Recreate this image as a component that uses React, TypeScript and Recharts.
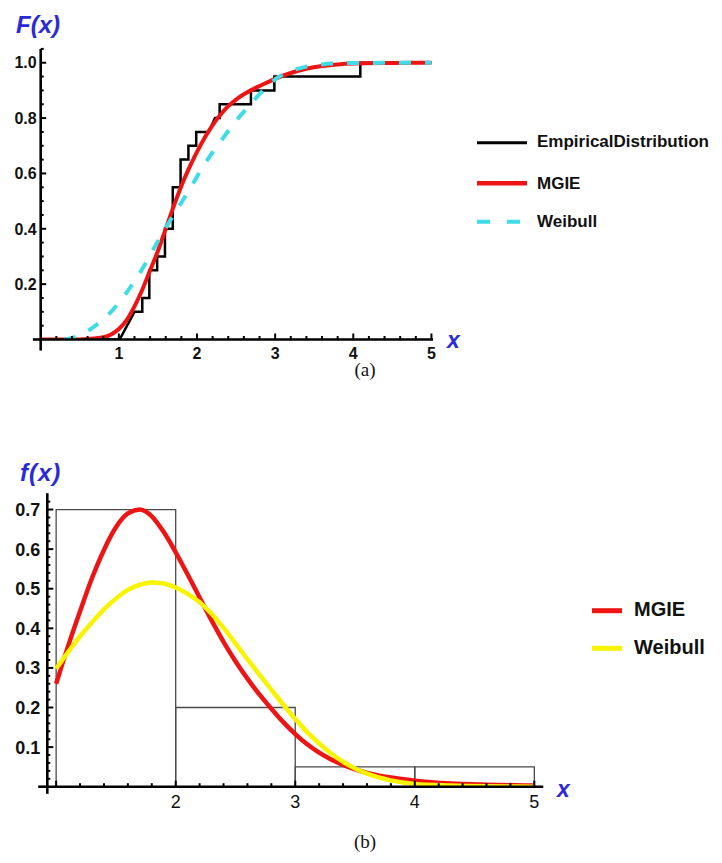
import React from "react";
import {
  ComposedChart,
  Line,
  XAxis,
  YAxis,
  ReferenceLine,
  ReferenceArea,
} from "recharts";

const SANS = '"Liberation Sans", Arial, Helvetica, sans-serif';
const SERIF = '"Liberation Serif", "Times New Roman", serif';
const BLUE = "#2a2ad8";
const RED = "#ee1414";
const CYAN = "#3edde6";
const YELLOW = "#f8f400";

// (a) empirical CDF, drawn as a step path
const empX = [0, 1.01, 1.2, 1.3, 1.3, 1.39, 1.39, 1.49, 1.49, 1.59, 1.59, 1.69, 1.69, 1.79, 1.79, 1.89, 1.89, 1.99, 1.99, 2.15, 2.23, 2.29, 2.29, 2.69, 2.69, 2.99, 2.99, 4.09, 4.09, 5];
const empY = [0, 0, 0.1, 0.1, 0.15, 0.15, 0.25, 0.25, 0.3, 0.3, 0.4, 0.4, 0.55, 0.55, 0.65, 0.65, 0.7, 0.7, 0.75, 0.75, 0.8, 0.8, 0.85, 0.85, 0.9, 0.9, 0.95, 0.95, 1.0, 1.0];

// (a) fitted CDFs
const mgieCdfX = [0, 0.4, 0.6, 0.8, 0.9, 1.0, 1.1, 1.2, 1.3, 1.4, 1.5, 1.6, 1.7, 1.8, 1.9, 2.0, 2.1, 2.2, 2.3, 2.4, 2.5, 2.6, 2.7, 2.8, 3.0, 3.2, 3.4, 3.6, 3.8, 4.0, 4.5, 5.0];
const mgieCdfY = [0, 0, 0.002, 0.008, 0.018, 0.038, 0.07, 0.12, 0.18, 0.25, 0.32, 0.4, 0.48, 0.555, 0.62, 0.678, 0.73, 0.775, 0.812, 0.843, 0.867, 0.886, 0.902, 0.916, 0.942, 0.963, 0.978, 0.988, 0.994, 0.997, 0.999, 1.0];

const weibullCdfX = [0.3, 0.5, 0.7, 0.9, 1.1, 1.3, 1.5, 1.7, 1.9, 2.1, 2.3, 2.5, 2.7, 2.9, 3.0, 3.2, 3.4, 3.6, 4.0, 5.0];
const weibullCdfY = [0, 0.015, 0.05, 0.1, 0.17, 0.255, 0.355, 0.45, 0.54, 0.635, 0.715, 0.79, 0.855, 0.915, 0.94, 0.97, 0.986, 0.994, 0.999, 1.0];

// (b) histogram bins
const binEdges = [1, 2, 3, 4, 5];
const binHeights = [0.7, 0.2, 0.05, 0.05];

// (b) fitted densities
const mgiePdfX = [1.0, 1.1, 1.2, 1.3, 1.4, 1.5, 1.6, 1.7, 1.8, 1.9, 2.0, 2.1, 2.2, 2.3, 2.4, 2.5, 2.6, 2.7, 2.8, 2.9, 3.0, 3.1, 3.2, 3.3, 3.4, 3.6, 3.8, 4.0, 4.3, 4.6, 5.0];
const mgiePdfY = [0.26, 0.355, 0.443, 0.527, 0.598, 0.655, 0.69, 0.7, 0.683, 0.643, 0.592, 0.536, 0.478, 0.42, 0.366, 0.317, 0.273, 0.233, 0.197, 0.163, 0.133, 0.107, 0.086, 0.069, 0.055, 0.035, 0.023, 0.015, 0.008, 0.005, 0.003];

const weibullPdfX = [1.0, 1.1, 1.2, 1.3, 1.4, 1.5, 1.6, 1.7, 1.8, 1.9, 2.0, 2.1, 2.2, 2.3, 2.4, 2.5, 2.6, 2.7, 2.8, 2.9, 3.0, 3.1, 3.2, 3.3, 3.4, 3.5, 3.6, 3.8, 4.0, 4.3, 4.6, 5.0];
const weibullPdfY = [0.298, 0.34, 0.38, 0.415, 0.448, 0.475, 0.497, 0.51, 0.516, 0.513, 0.503, 0.487, 0.466, 0.437, 0.401, 0.362, 0.322, 0.283, 0.245, 0.207, 0.171, 0.138, 0.109, 0.084, 0.063, 0.046, 0.033, 0.016, 0.007, 0.003, 0.001, 0];

// tick labels
const topXLabels = [1, 2, 3, 4, 5];
const topYLabels = [0.2, 0.4, 0.6, 0.8, 1.0];
const bottomXMajors = [1, 2, 3, 4, 5];
const bottomXLabels = [2, 3, 4, 5];
const bottomYLabels = [0.1, 0.2, 0.3, 0.4, 0.5, 0.6, 0.7];

const zip = (xs: number[], ys: number[]) => xs.map((x, i) => ({ x, y: ys[i] }));

// evenly spaced tick positions (majors + minors)
const range = (from: number, to: number, step: number) => {
  const out: number[] = [];
  for (let i = 0; from + i * step <= to + 1e-9; i++) out.push(+(from + i * step).toFixed(4));
  return out;
};

const has = (list: number[], v: number) => list.some((m) => Math.abs(m - v) < 1e-6);

type TickStyle = {
  majors: number[];
  labels: number[];
  majorLen: number;
  minorLen: number;
  fontSize: number;
  fontWeight: number | string;
  gap: number;
  digits: number;
};

// ticks point into the plot, like the axes of a Mathematica plot
const xTick = (s: TickStyle) => (props: any) => {
  const { x, y, payload } = props;
  const v = payload.value as number;
  const len = has(s.majors, v) ? s.majorLen : s.minorLen;
  return (
    <g>
      <line x1={x} x2={x} y1={y} y2={y - len} stroke="#000" strokeWidth={2} />
      {has(s.labels, v) && (
        <text x={x} y={y + s.gap} textAnchor="middle" fontFamily={SANS} fontSize={s.fontSize} fontWeight={s.fontWeight} fill="#111">
          {v.toFixed(s.digits)}
        </text>
      )}
    </g>
  );
};

const yTick = (s: TickStyle) => (props: any) => {
  const { x, y, payload } = props;
  const v = payload.value as number;
  const len = has(s.majors, v) ? s.majorLen : s.minorLen;
  return (
    <g>
      <line x1={x} x2={x + len} y1={y} y2={y} stroke="#000" strokeWidth={2} />
      {has(s.labels, v) && (
        <text x={x - s.gap} y={y} dy="0.36em" textAnchor="end" fontFamily={SANS} fontSize={s.fontSize} fontWeight={s.fontWeight} fill="#111">
          {v.toFixed(s.digits)}
        </text>
      )}
    </g>
  );
};

const axisLine = { stroke: "#000", strokeWidth: 2.6 };

function CdfChart() {
  return (
    <ComposedChart width={722} height={380} margin={{ top: 48.9, right: 289, bottom: 10.5, left: 0.7 }}>
      <XAxis
        type="number"
        dataKey="x"
        domain={[0, 5.02]}
        allowDataOverflow
        ticks={range(0.2, 5, 0.2)}
        interval={0}
        height={30}
        tickSize={0}
        tickMargin={0}
        tickLine={false}
        axisLine={axisLine}
        tick={xTick({ majors: topXLabels, labels: topXLabels, majorLen: 6, minorLen: 3.5, fontSize: 16, fontWeight: 700, gap: 19, digits: 0 })}
      />
      <YAxis
        type="number"
        domain={[0, 1.05]}
        allowDataOverflow
        ticks={range(0.05, 1.05, 0.05)}
        interval={0}
        width={40}
        tickSize={0}
        tickMargin={0}
        tickLine={false}
        axisLine={axisLine}
        tick={yTick({ majors: topYLabels, labels: topYLabels, majorLen: 5.5, minorLen: 3, fontSize: 16, fontWeight: 700, gap: 4, digits: 1 })}
      />
      {/* axis overhang past the origin */}
      <ReferenceLine segment={[{ x: -0.1, y: 0 }, { x: 0, y: 0 }]} stroke="#000" strokeWidth={2.6} ifOverflow="visible" />
      <ReferenceLine segment={[{ x: 0, y: 0 }, { x: 0, y: -0.04 }]} stroke="#000" strokeWidth={2.6} ifOverflow="visible" />

      <Line data={zip(empX, empY)} dataKey="y" type="linear" stroke="#000" strokeWidth={2.5} dot={false} isAnimationActive={false} />
      <Line data={zip(mgieCdfX, mgieCdfY)} dataKey="y" type="monotone" stroke={RED} strokeWidth={4} dot={false} isAnimationActive={false} />
      <Line data={zip(weibullCdfX, weibullCdfY)} dataKey="y" type="monotone" stroke={CYAN} strokeWidth={4} strokeDasharray="12 14" dot={false} isAnimationActive={false} />
    </ComposedChart>
  );
}

function PdfChart() {
  return (
    <ComposedChart width={722} height={420} margin={{ top: 73.3, right: 178.7, bottom: 23.3, left: 7.3 }}>
      <XAxis
        type="number"
        dataKey="x"
        domain={[0.926, 5.075]}
        allowDataOverflow
        ticks={range(1, 5, 0.2)}
        interval={0}
        height={30}
        tickSize={0}
        tickMargin={0}
        tickLine={false}
        axisLine={axisLine}
        tick={xTick({ majors: bottomXMajors, labels: bottomXLabels, majorLen: 6, minorLen: 3.5, fontSize: 18, fontWeight: 400, gap: 21, digits: 0 })}
      />
      <YAxis
        type="number"
        domain={[0, 0.741]}
        allowDataOverflow
        ticks={range(0.02, 0.72, 0.02)}
        interval={0}
        width={40}
        tickSize={0}
        tickMargin={0}
        tickLine={false}
        axisLine={axisLine}
        tick={yTick({ majors: bottomYLabels, labels: bottomYLabels, majorLen: 6, minorLen: 3, fontSize: 18, fontWeight: 700, gap: 7, digits: 1 })}
      />
      <ReferenceLine segment={[{ x: 0.85, y: 0 }, { x: 0.926, y: 0 }]} stroke="#000" strokeWidth={2.6} ifOverflow="visible" />
      <ReferenceLine segment={[{ x: 0.926, y: 0 }, { x: 0.926, y: -0.018 }]} stroke="#000" strokeWidth={2.6} ifOverflow="visible" />

      {binHeights.map((h, i) => (
        <ReferenceArea
          key={i}
          x1={binEdges[i]}
          x2={binEdges[i + 1]}
          y1={0}
          y2={h}
          fill="none"
          fillOpacity={0}
          stroke="#4a4a4a"
          strokeWidth={1.3}
          ifOverflow="visible"
        />
      ))}

      <Line data={zip(mgiePdfX, mgiePdfY)} dataKey="y" type="monotone" stroke={RED} strokeWidth={4.5} dot={false} isAnimationActive={false} />
      <Line data={zip(weibullPdfX, weibullPdfY)} dataKey="y" type="monotone" stroke={YELLOW} strokeWidth={4.5} dot={false} isAnimationActive={false} />
    </ComposedChart>
  );
}

// axis titles, legends and panel captions
function Overlay() {
  const axisTitle = { fontFamily: SANS, fontWeight: 700, fontStyle: "italic" as const, fill: BLUE };
  const legendText = { fontFamily: SANS, fontWeight: 700, fill: "#111" };
  return (
    <svg width={722} height={863} style={{ position: "absolute", left: 0, top: 0, pointerEvents: "none" }}>
      <text x={16} y={33} fontSize={24} {...axisTitle}>F(x)</text>
      <text x={447} y={348} fontSize={23} {...axisTitle}>x</text>
      <text x={20} y={481} fontSize={24} letterSpacing={1} {...axisTitle}>f(x)</text>
      <text x={557} y={797} fontSize={23} {...axisTitle}>x</text>

      <line x1={477} x2={527} y1={142.7} y2={142.7} stroke="#000" strokeWidth={3} />
      <text x={537} y={147} fontSize={17} {...legendText}>EmpiricalDistribution</text>
      <line x1={477} x2={527} y1={183.3} y2={183.3} stroke={RED} strokeWidth={4.5} />
      <text x={537} y={188.5} fontSize={17} {...legendText}>MGIE</text>
      <line x1={477} x2={527} y1={221.7} y2={221.7} stroke={CYAN} strokeWidth={4} strokeDasharray="13 17" />
      <text x={537} y={227.3} fontSize={17} {...legendText}>Weibull</text>

      <line x1={592} x2={622} y1={610.7} y2={610.7} stroke={RED} strokeWidth={5} />
      <text x={634} y={615.5} fontSize={20} {...legendText}>MGIE</text>
      <line x1={592} x2={622} y1={648.3} y2={648.3} stroke={YELLOW} strokeWidth={5} />
      <text x={634} y={653.5} fontSize={20} {...legendText}>Weibull</text>

      <text x={365} y={376} fontSize={19} textAnchor="middle" fontFamily={SERIF} fill="#111">(a)</text>
      <text x={365} y={848} fontSize={19} textAnchor="middle" fontFamily={SERIF} fill="#111">(b)</text>
    </svg>
  );
}

export default function App() {
  return (
    <div style={{ position: "absolute", left: 0, top: 0, width: 722, height: 863, background: "#fff" }}>
      <div style={{ position: "absolute", left: 0, top: 0 }}>
        <CdfChart />
      </div>
      <div style={{ position: "absolute", left: 0, top: 420 }}>
        <PdfChart />
      </div>
      <Overlay />
    </div>
  );
}
